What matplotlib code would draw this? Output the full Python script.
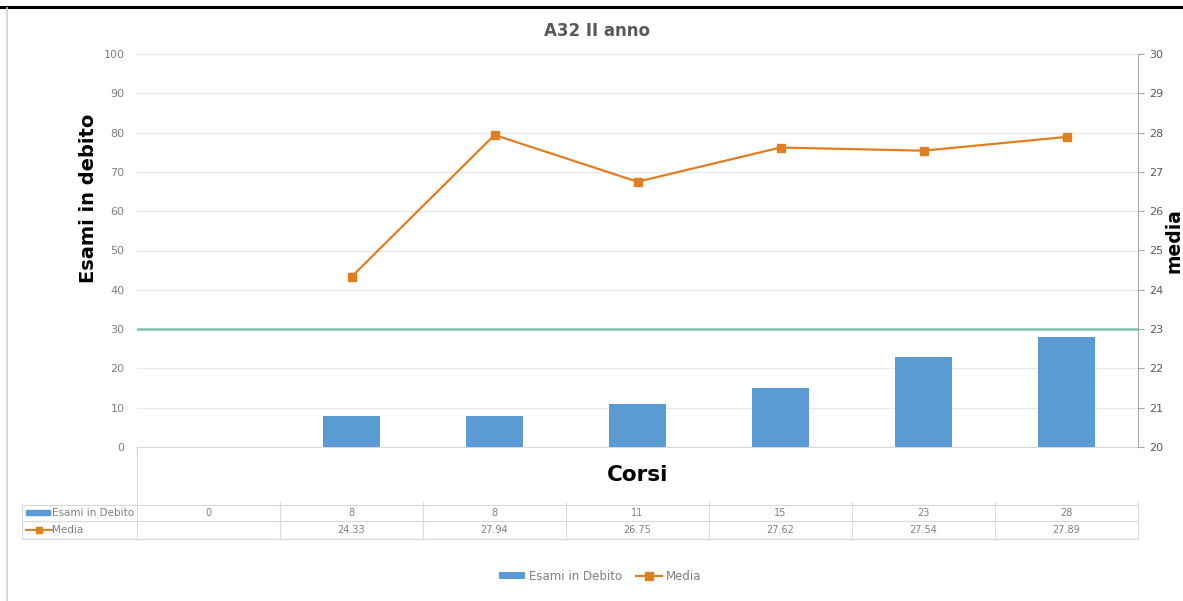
import matplotlib
matplotlib.use('Agg')
import matplotlib.pyplot as plt
import numpy as np
from matplotlib.lines import Line2D
from matplotlib.patches import Rectangle
from matplotlib.transforms import blended_transform_factory

plt.rcParams['font.family'] = ['DejaVu Sans']

# dati
esami_debito = [0, 8, 8, 11, 15, 23, 28]
media = [np.nan, 24.33, 27.94, 26.75, 27.62, 27.54, 27.89]
media_txt = ['', '24.33', '27.94', '26.75', '27.62', '27.54', '27.89']
soglia = 30

W, H = 1183, 601
def fx(px):
    return px / W
def fy(py):
    return 1 - py / H

blu = '#5B9BD5'
arancio = '#E07E22'
verde = '#7DC2A5'
grigio = '#7F7F7F'
linea_tab = '#D9D9D9'

fig = plt.figure(figsize=(11.83, 6.01), dpi=100)
ax = fig.add_axes([fx(137), fy(447), fx(1138) - fx(137), (447 - 54) / H])

x = np.arange(len(esami_debito))
barre = ax.bar(x, esami_debito, width=0.4, color=blu, zorder=3, label='Esami in Debito')
ax.set_xlim(-0.5, len(x) - 0.5)
ax.set_ylim(0, 100)
ax.set_yticks(range(0, 101, 10))
ax.set_xticks([])
ax.grid(axis='y', color='#E6E6E6', lw=0.8, zorder=0)
ax.axhline(soglia, color=verde, lw=1.8, zorder=4)
for s in ['left', 'top', 'right']:
    ax.spines[s].set_visible(False)
ax.spines['bottom'].set_color(linea_tab)
ax.tick_params(axis='y', length=0, labelsize=8, labelcolor=grigio, pad=9)

ax2 = ax.twinx()
linea, = ax2.plot(x, media, color=arancio, lw=1.6, marker='s', markersize=6, zorder=5, label='Media')
ax2.set_ylim(20, 30)
ax2.set_yticks(range(20, 31, 1))
for s in ['left', 'top', 'bottom']:
    ax2.spines[s].set_visible(False)
ax2.spines['right'].set_color('#A6A6A6')
ax2.tick_params(axis='y', length=4, color='#A6A6A6', labelsize=8, labelcolor='#595959', pad=4)

fig.text(fx(597), fy(31), 'A32 II anno', ha='center', va='center', fontsize=12,
         fontweight='bold', color='#595959')
fig.text(fx(88), fy(198), 'Esami in debito', ha='center', va='center', rotation=90,
         fontsize=14, fontweight='bold', color='black')
fig.text(fx(1174), fy(241), 'media', ha='center', va='center', rotation=90,
         fontsize=13.5, fontweight='bold', color='black')
fig.text(fx(638), fy(475), 'Corsi', ha='center', va='center', fontsize=15.5,
         fontweight='bold', color='black')

# tabella dati
tr = blended_transform_factory(ax.transData, fig.transFigure)
for yy in [505, 521, 539]:
    fig.add_artist(Line2D([fx(22), fx(1138)], [fy(yy)] * 2, color=linea_tab, lw=0.8))
fig.add_artist(Line2D([fx(22), fx(22)], [fy(505), fy(539)], color=linea_tab, lw=0.8))
fig.add_artist(Line2D([-0.5, -0.5], [fy(447), fy(539)], color=linea_tab, lw=0.8, transform=tr))
for b in np.arange(0.5, len(x), 1.0):
    fig.add_artist(Line2D([b, b], [fy(502), fy(539)], color=linea_tab, lw=0.8, transform=tr))

for i in x:
    fig.text(i, fy(513), str(esami_debito[i]), transform=tr, ha='center', va='center',
             fontsize=7, color=grigio)
    fig.text(i, fy(530), media_txt[i], transform=tr, ha='center', va='center',
             fontsize=7, color=grigio)

fig.add_artist(Rectangle((fx(26), fy(515)), fx(50) - fx(26), 5 / H, color=blu))
fig.add_artist(Line2D([fx(26), fx(52)], [fy(530)] * 2, color=arancio, lw=1.4))
fig.add_artist(Line2D([fx(39)], [fy(530)], color=arancio, marker='s', markersize=4))
fig.text(fx(52), fy(513), 'Esami in Debito', ha='left', va='center', fontsize=7.5, color=grigio)
fig.text(fx(52), fy(530), 'Media', ha='left', va='center', fontsize=7.5, color=grigio)

# legenda
fig.legend(handles=[barre, linea], loc='center', bbox_to_anchor=(fx(600), fy(576)), ncol=2,
           frameon=False, fontsize=8.5, labelcolor=grigio, handlelength=2.2, handleheight=0.5,
           columnspacing=1.2, handletextpad=0.3)

# cornice
fig.add_artist(Line2D([0, 1], [fy(7)] * 2, color='black', lw=2.2))
fig.add_artist(Line2D([fx(7), fx(7)], [fy(8), 0], color='#D0D0D0', lw=1.2))

fig.savefig('out.png', dpi=100)
